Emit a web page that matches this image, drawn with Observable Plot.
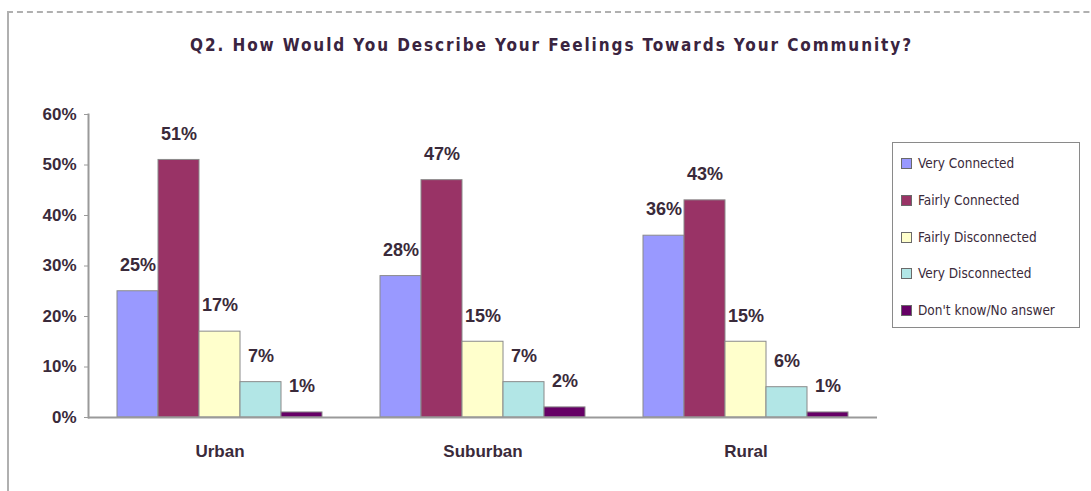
<!DOCTYPE html>
<html>
<head>
<meta charset="utf-8">
<script src="https://cdn.jsdelivr.net/npm/d3@7"></script>
<script src="https://cdn.jsdelivr.net/npm/@observablehq/plot@0.6"></script>
<style>
  html, body { margin: 0; padding: 0; background: #fff; }
  #wrap { position: relative; width: 1091px; height: 491px; overflow: hidden; font-family: Arial, "Liberation Sans", sans-serif; color: #3a2a3a; }
  #frame { position: absolute; left: 7px; top: 11px; width: 1200px; height: 600px; border-left: 2px solid #b0b0b0; border-top: 2px dashed #b0b0b0; }
  #title { position: relative; height: 90px; box-sizing: border-box; padding-top: 35px; text-align: center; font-family: "DejaVu Sans Condensed", "DejaVu Sans", sans-serif; font-weight: bold; font-size: 17px; letter-spacing: 1.9px; color: #3a2440; padding-left: 12px; }
  #chart { position: relative; }
  #legend { position: absolute; left: 892px; top: 142px; width: 188px; height: 186px; border: 1px solid #8a8a8a; box-sizing: border-box; font-family: "DejaVu Sans Condensed", "DejaVu Sans", sans-serif; font-size: 13.5px; color: #3a2a3a; background: #fff; }
  .item { position: absolute; left: 8px; display: flex; align-items: center; white-space: nowrap; }
  .sw { width: 9px; height: 9px; border: 1px solid #6a6a6a; margin-right: 6px; }
</style>
</head>
<body>
<div id="wrap">
  <div id="frame"></div>
  <div id="title">Q2. How Would You Describe Your Feelings Towards Your Community?</div>
  <div id="chart"></div>
  <div id="legend"></div>
</div>
<script>
const categories = ["Urban", "Suburban", "Rural"];
const series = ["Very Connected", "Fairly Connected", "Fairly Disconnected", "Very Disconnected", "Don't know/No answer"];
const urbanValues = [25, 51, 17, 7, 1];
const suburbanValues = [28, 47, 15, 7, 2];
const ruralValues = [36, 43, 15, 6, 1];
const colors = ["#9999FF", "#993366", "#FFFFCC", "#B2E6E6", "#660066"];
const yTicks = [0, 10, 20, 30, 40, 50, 60];

const valuesByCategory = [urbanValues, suburbanValues, ruralValues];
const data = [];
categories.forEach((cat, i) => {
  series.forEach((s, j) => data.push({cat, series: s, value: valuesByCategory[i][j]}));
});

const textColor = "#3a2a3a";

const chart = Plot.plot({
  width: 1091,
  height: 401,
  marginLeft: 88,
  marginRight: 214,
  marginTop: 24,
  marginBottom: 74,
  style: {fontFamily: "Arial, 'Liberation Sans', sans-serif", color: textColor, background: "transparent", overflow: "visible"},
  fx: {domain: categories, padding: 0, label: null, axis: null},
  x: {domain: series, paddingInner: 0, paddingOuter: 0.68, axis: null},
  y: {domain: [0, 60], label: null, axis: null},
  color: {domain: series, range: colors},
  marks: [
    Plot.barY(data, {fx: "cat", x: "series", y: "value", fill: "series", stroke: "#8a8a8a", strokeWidth: 1}),
    Plot.ruleY([0], {stroke: "#9a9a9a", strokeWidth: 2}),
    Plot.text(data, {fx: "cat", x: "series", y: "value", text: d => d.value + "%", dy: -26, fontSize: 18, fontWeight: "bold", fill: textColor}),
    Plot.axisY({ticks: yTicks, tickFormat: d => d + "%", tickSize: 4, tickPadding: 8, fontSize: 17, fontWeight: "bold", stroke: "#9a9a9a", fill: textColor, label: null, letterSpacing: 0.5}),
    Plot.axisFx({anchor: "bottom", tickSize: 0, tickPadding: 27, fontSize: 17, fontWeight: "bold", fill: textColor, label: null, letterSpacing: 1.5}),
    Plot.frame({anchor: "left", facet: "super", stroke: "#9a9a9a", strokeWidth: 2})
  ]
});
document.getElementById("chart").appendChild(chart);

const legend = document.getElementById("legend");
const itemTops = [12, 49, 86, 122, 159];
series.forEach((s, i) => {
  const it = document.createElement("div");
  it.className = "item";
  it.style.top = itemTops[i] + "px";
  const sw = document.createElement("div");
  sw.className = "sw";
  sw.style.background = colors[i];
  const lab = document.createElement("span");
  lab.textContent = s;
  it.appendChild(sw);
  it.appendChild(lab);
  legend.appendChild(it);
});
</script>
</body>
</html>
